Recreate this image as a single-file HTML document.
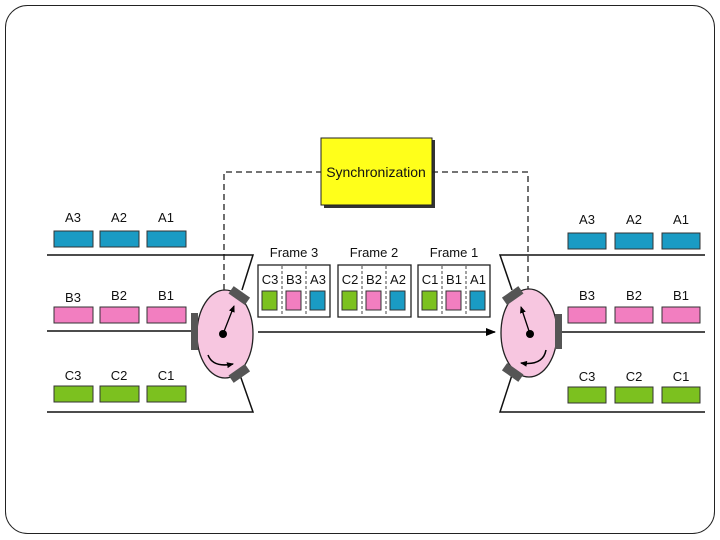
<!DOCTYPE html><html><head><style>body{margin:0;background:#fff}svg{display:block}text{font-family:"Liberation Sans",sans-serif;font-size:13px;fill:#111;text-anchor:middle}</style></head><body>
<svg width="720" height="540" viewBox="0 0 720 540">
<rect x="5.5" y="5.5" width="709" height="528" rx="22" fill="#fff" stroke="#222" stroke-width="1"/>
<defs><marker id="ah" markerWidth="10" markerHeight="8" refX="9" refY="4" orient="auto" markerUnits="userSpaceOnUse"><path d="M0,0L10,4L0,8z" fill="#000"/></marker>
<marker id="sa" markerWidth="7" markerHeight="6" refX="6" refY="3" orient="auto" markerUnits="userSpaceOnUse"><path d="M0,0L7,3L0,6z" fill="#000"/></marker></defs>
<!-- sync -->
<rect x="324" y="140" width="111" height="68" fill="#333"/>
<rect x="321" y="138" width="111" height="67" fill="#ffff1a" stroke="#222"/>
<text x="376" y="177" style="font-size:14px">Synchronization</text>
<path d="M224,330V172H321M432,172H528V330" fill="none" stroke="#222" stroke-width="1.3" stroke-dasharray="6,4"/>
<!-- left lines -->
<g stroke="#111" stroke-width="1.5" fill="none">
<path d="M47,255H253L242,290M47,412H253L240,375M47,331H193"/>
<path d="M705,255H500L512,290M705,412H500L512,375M705,332H556"/>
<path d="M258,332H495" marker-end="url(#ah)"/>
</g>
<!-- left boxes -->
<g stroke="#333" stroke-width="1">
<rect x="54" y="231" width="39" height="16" fill="#1a9bc4"/><rect x="100" y="231" width="39" height="16" fill="#1a9bc4"/><rect x="147" y="231" width="39" height="16" fill="#1a9bc4"/>
<rect x="54" y="307" width="39" height="16" fill="#f27ec0"/><rect x="100" y="307" width="39" height="16" fill="#f27ec0"/><rect x="147" y="307" width="39" height="16" fill="#f27ec0"/>
<rect x="54" y="386" width="39" height="16" fill="#7cc11f"/><rect x="100" y="386" width="39" height="16" fill="#7cc11f"/><rect x="147" y="386" width="39" height="16" fill="#7cc11f"/>
<rect x="568" y="233" width="38" height="16" fill="#1a9bc4"/><rect x="615" y="233" width="38" height="16" fill="#1a9bc4"/><rect x="662" y="233" width="38" height="16" fill="#1a9bc4"/>
<rect x="568" y="307" width="38" height="16" fill="#f27ec0"/><rect x="615" y="307" width="38" height="16" fill="#f27ec0"/><rect x="662" y="307" width="38" height="16" fill="#f27ec0"/>
<rect x="568" y="387" width="38" height="16" fill="#7cc11f"/><rect x="615" y="387" width="38" height="16" fill="#7cc11f"/><rect x="662" y="387" width="38" height="16" fill="#7cc11f"/>
</g>
<text x="73" y="222">A3</text><text x="119" y="222">A2</text><text x="166" y="222">A1</text>
<text x="73" y="302">B3</text><text x="119" y="300">B2</text><text x="166" y="300">B1</text>
<text x="73" y="380">C3</text><text x="119" y="380">C2</text><text x="166" y="380">C1</text>
<text x="587" y="224">A3</text><text x="634" y="224">A2</text><text x="681" y="224">A1</text>
<text x="587" y="300">B3</text><text x="634" y="300">B2</text><text x="681" y="300">B1</text>
<text x="587" y="381">C3</text><text x="634" y="381">C2</text><text x="681" y="381">C1</text>
<!-- frames -->
<g>
<text x="294" y="257">Frame 3</text><text x="374" y="257">Frame 2</text><text x="454" y="257">Frame 1</text>
<g fill="#fff" stroke="#222" stroke-width="1.3"><rect x="258" y="265" width="72" height="52"/><rect x="338" y="265" width="73" height="52"/><rect x="418" y="265" width="72" height="52"/></g>
<g stroke="#444" stroke-dasharray="3,2"><path d="M282,266V316M306,266V316M362,266V316M386,266V316M442,266V316M466,266V316"/></g>
<text x="270" y="284">C3</text><text x="294" y="284">B3</text><text x="318" y="284">A3</text>
<text x="350" y="284">C2</text><text x="374" y="284">B2</text><text x="398" y="284">A2</text>
<text x="430" y="284">C1</text><text x="454" y="284">B1</text><text x="478" y="284">A1</text>
<g stroke="#333"><rect x="262" y="291" width="15" height="19" fill="#7cc11f"/><rect x="286" y="291" width="15" height="19" fill="#f27ec0"/><rect x="310" y="291" width="15" height="19" fill="#1a9bc4"/>
<rect x="342" y="291" width="15" height="19" fill="#7cc11f"/><rect x="366" y="291" width="15" height="19" fill="#f27ec0"/><rect x="390" y="291" width="15" height="19" fill="#1a9bc4"/>
<rect x="422" y="291" width="15" height="19" fill="#7cc11f"/><rect x="446" y="291" width="15" height="19" fill="#f27ec0"/><rect x="470" y="291" width="15" height="19" fill="#1a9bc4"/></g>
</g>
<!-- left switch -->
<ellipse cx="225" cy="334" rx="28" ry="44" fill="#f7c6e0" stroke="#222" stroke-width="1.3"/>
<rect x="191" y="313" width="7" height="37" fill="#555"/>
<rect x="229" y="291" width="20" height="9" fill="#555" transform="rotate(35 239 296)"/>
<rect x="229" y="369" width="20" height="9" fill="#555" transform="rotate(-35 239 373)"/>
<circle cx="223" cy="334" r="4" fill="#000"/>
<path d="M223,334L234,306" stroke="#000" stroke-width="1.3" marker-end="url(#sa)"/>
<path d="M208,355Q213,368 233,364" fill="none" stroke="#000" stroke-width="1.5" marker-end="url(#sa)"/>
<!-- right switch -->
<ellipse cx="529" cy="333" rx="28" ry="44" fill="#f7c6e0" stroke="#222" stroke-width="1.3"/>
<rect x="555" y="314" width="7" height="35" fill="#555"/>
<rect x="503" y="291" width="20" height="9" fill="#555" transform="rotate(-35 513 296)"/>
<rect x="503" y="368" width="20" height="9" fill="#555" transform="rotate(35 513 372)"/>
<circle cx="530" cy="334" r="4" fill="#000"/>
<path d="M530,334L521,307" stroke="#000" stroke-width="1.3" marker-end="url(#sa)"/>
<path d="M546,350Q543,366 521,363" fill="none" stroke="#000" stroke-width="1.5" marker-end="url(#sa)"/>
</svg></body></html>
